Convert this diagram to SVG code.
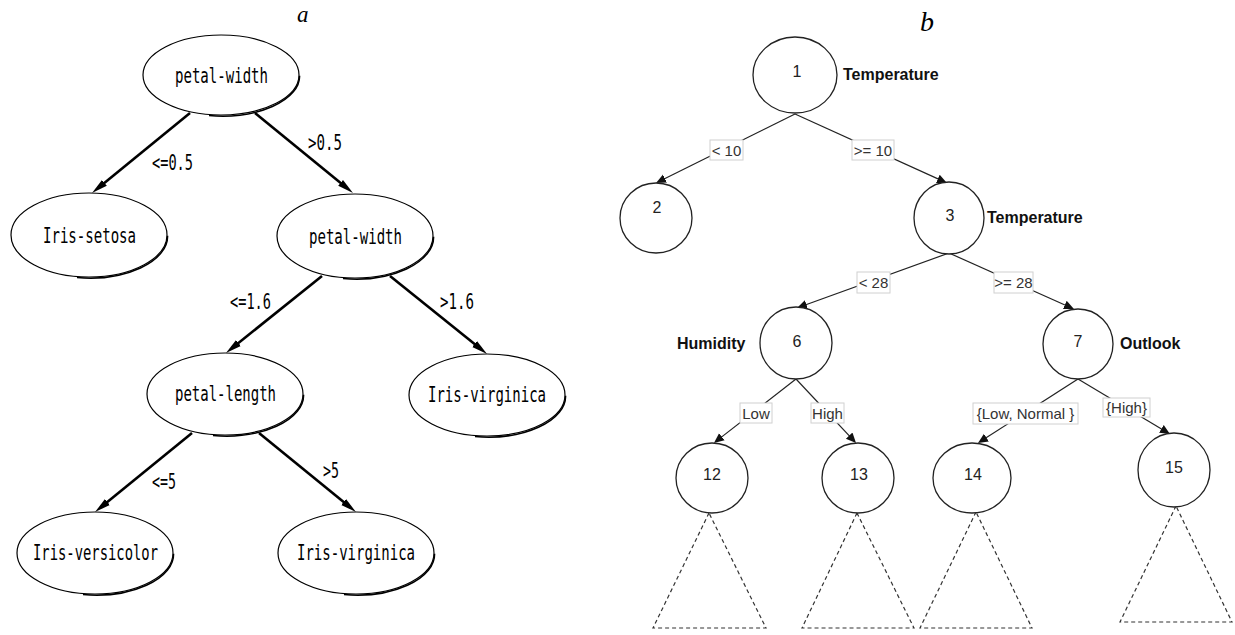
<svg xmlns="http://www.w3.org/2000/svg" width="1235" height="635" viewBox="0 0 1235 635">
  <style>
    .bg { fill: #ffffff; }
    .oval { fill: #ffffff; stroke: #000; stroke-width: 1.2; }
    .shade { fill: none; stroke: #000; stroke-width: 1.5; }
    .mono { font-family: "DejaVu Sans Mono", "Liberation Mono", monospace; font-size: 21px; fill: #000; }
    .thick { stroke: #000; stroke-width: 2.6; fill: none; }
    .circ { fill: #ffffff; stroke: #222; stroke-width: 1.3; }
    .num { font-family: "Liberation Sans", Arial, sans-serif; font-size: 16px; fill: #222; text-anchor: middle; }
    .attr { font-family: "Liberation Sans", Arial, sans-serif; font-size: 16px; font-weight: bold; fill: #111; }
    .thin { stroke: #222; stroke-width: 1.2; fill: none; }
    .lbox { fill: #ffffff; stroke: #d0d0d0; stroke-width: 1; }
    .ltxt { font-family: "Liberation Sans", Arial, sans-serif; font-size: 15px; fill: #333; text-anchor: middle; }
    .tri { fill: none; stroke: #333; stroke-width: 1.2; stroke-dasharray: 4 3; }
    .tag { font-family: "Liberation Serif", "Times New Roman", serif; font-style: italic; fill: #000; }
  </style>
  <defs>
    <marker id="headA" markerUnits="userSpaceOnUse" markerWidth="20" markerHeight="10" viewBox="0 -5 20 10" refX="8" refY="0" orient="auto">
      <path d="M0,-3.8 L16,0 L0,3.8 z" fill="#000"/>
    </marker>
    <marker id="headB" markerUnits="userSpaceOnUse" markerWidth="12" markerHeight="12" viewBox="0 -6 12 12" refX="5" refY="0" orient="auto">
      <path d="M0,-4.5 L10,0 L0,4.5 z" fill="#111"/>
    </marker>
  </defs>
  <rect class="bg" x="0" y="0" width="1235" height="635"/>

  <!-- panel titles -->
  <text class="tag" x="297" y="21.5" font-size="23">a</text>
  <text class="tag" x="920" y="31" font-size="28">b</text>

  <!-- ===== tree a: iris ===== -->
  <g id="edges-a">
    <line class="thick" x1="190" y1="113" x2="98.2" y2="187.9" marker-end="url(#headA)"/>
    <line class="thick" x1="255" y1="113" x2="346.8" y2="187.9" marker-end="url(#headA)"/>
    <line class="thick" x1="322" y1="276" x2="232.2" y2="348.0" marker-end="url(#headA)"/>
    <line class="thick" x1="390" y1="276" x2="480.8" y2="349.0" marker-end="url(#headA)"/>
    <line class="thick" x1="192" y1="433" x2="101.2" y2="507.0" marker-end="url(#headA)"/>
    <line class="thick" x1="259" y1="433" x2="349.8" y2="507.0" marker-end="url(#headA)"/>
    <text class="mono" x="152" y="170" textLength="41" lengthAdjust="spacingAndGlyphs">&lt;=0.5</text>
    <text class="mono" x="308" y="150" textLength="34" lengthAdjust="spacingAndGlyphs">&gt;0.5</text>
    <text class="mono" x="230" y="309" textLength="41" lengthAdjust="spacingAndGlyphs">&lt;=1.6</text>
    <text class="mono" x="440" y="309" textLength="34" lengthAdjust="spacingAndGlyphs">&gt;1.6</text>
    <text class="mono" x="152" y="489" textLength="24" lengthAdjust="spacingAndGlyphs">&lt;=5</text>
    <text class="mono" x="323" y="478" textLength="16" lengthAdjust="spacingAndGlyphs">&gt;5</text>
  </g>

  <g id="a-root">
    <ellipse class="oval" cx="221" cy="75" rx="78" ry="40"/>
    <path class="shade" d="M299.6,75.7 A78 40 0 0 1 209,115.6"/>
    <text class="mono" x="175" y="83" textLength="93" lengthAdjust="spacingAndGlyphs">petal-width</text>
  </g>
  <g id="a-setosa">
    <ellipse class="oval" cx="89" cy="235" rx="78" ry="42"/>
    <path class="shade" d="M167.6,235.7 A78 42 0 0 1 77,277.6"/>
    <text class="mono" x="43" y="243" textLength="93" lengthAdjust="spacingAndGlyphs">Iris-setosa</text>
  </g>
  <g id="a-width2">
    <ellipse class="oval" cx="355" cy="236" rx="78" ry="42"/>
    <path class="shade" d="M433.6,236.7 A78 42 0 0 1 343,278.6"/>
    <text class="mono" x="309" y="244" textLength="93" lengthAdjust="spacingAndGlyphs">petal-width</text>
  </g>
  <g id="a-length">
    <ellipse class="oval" cx="225" cy="394" rx="78" ry="41"/>
    <path class="shade" d="M303.6,394.7 A78 41 0 0 1 213,435.6"/>
    <text class="mono" x="175" y="401" textLength="101" lengthAdjust="spacingAndGlyphs">petal-length</text>
  </g>
  <g id="a-virginica1">
    <ellipse class="oval" cx="487" cy="395" rx="78" ry="41"/>
    <path class="shade" d="M565.6,395.7 A78 41 0 0 1 475,436.6"/>
    <text class="mono" x="428" y="402" textLength="118" lengthAdjust="spacingAndGlyphs">Iris-virginica</text>
  </g>
  <g id="a-versicolor">
    <ellipse class="oval" cx="95" cy="553" rx="78" ry="41"/>
    <path class="shade" d="M173.6,553.7 A78 41 0 0 1 83,594.6"/>
    <text class="mono" x="33" y="560" textLength="125" lengthAdjust="spacingAndGlyphs">Iris-versicolor</text>
  </g>
  <g id="a-virginica2">
    <ellipse class="oval" cx="356" cy="553" rx="78" ry="41"/>
    <path class="shade" d="M434.6,553.7 A78 41 0 0 1 344,594.6"/>
    <text class="mono" x="297" y="560" textLength="118" lengthAdjust="spacingAndGlyphs">Iris-virginica</text>
  </g>

  <!-- ===== tree b: weather ===== -->
  <g id="edges-b">
    <line class="thin" x1="795" y1="114" x2="660.5" y2="180.8" marker-end="url(#headB)"/>
    <line class="thin" x1="795" y1="114" x2="942.4" y2="180.9" marker-end="url(#headB)"/>
    <line class="thin" x1="949" y1="253" x2="801.7" y2="306.3" marker-end="url(#headB)"/>
    <line class="thin" x1="949" y1="253" x2="1069.4" y2="307.0" marker-end="url(#headB)"/>
    <line class="thin" x1="796" y1="379" x2="717.9" y2="439.9" marker-end="url(#headB)"/>
    <line class="thin" x1="796" y1="379" x2="852.6" y2="439.3" marker-end="url(#headB)"/>
    <line class="thin" x1="1078" y1="379" x2="982.2" y2="440.3" marker-end="url(#headB)"/>
    <line class="thin" x1="1078" y1="379" x2="1165.7" y2="431.4" marker-end="url(#headB)"/>

    <rect class="lbox" x="710" y="140" width="33" height="20"/>
    <text class="ltxt" x="726.5" y="155.5">&lt; 10</text>
    <rect class="lbox" x="852" y="140" width="42" height="20"/>
    <text class="ltxt" x="873" y="155.5">&gt;= 10</text>
    <rect class="lbox" x="857" y="272" width="33" height="21"/>
    <text class="ltxt" x="873.5" y="288">&lt; 28</text>
    <rect class="lbox" x="994" y="272" width="39" height="21"/>
    <text class="ltxt" x="1013.5" y="288">&gt;= 28</text>
    <rect class="lbox" x="740" y="403" width="32" height="20"/>
    <text class="ltxt" x="756" y="418.5">Low</text>
    <rect class="lbox" x="811" y="403" width="33" height="20"/>
    <text class="ltxt" x="827.5" y="418.5">High</text>
    <rect class="lbox" x="973" y="403" width="105" height="21"/>
    <text class="ltxt" x="1025.5" y="419">{Low, Normal }</text>
    <rect class="lbox" x="1103" y="398" width="47" height="19"/>
    <text class="ltxt" x="1126.5" y="412.5">{High}</text>
  </g>

  <!-- collapsed subtrees -->
  <g id="subtrees">
    <polygon class="tri" points="709,513 653,628 766,628"/>
    <polygon class="tri" points="857,513 802,628 914,628"/>
    <polygon class="tri" points="976,512 920,628 1032,628"/>
    <polygon class="tri" points="1176,506 1120,622 1232,622"/>
  </g>

  <g id="b-n1">
    <ellipse class="circ" cx="795" cy="75" rx="42" ry="38"/>
    <text class="num" x="797" y="77">1</text>
    <text class="attr" x="843" y="80">Temperature</text>
  </g>
  <g id="b-n2">
    <ellipse class="circ" cx="656" cy="218" rx="36" ry="35"/>
    <text class="num" x="657" y="213">2</text>
  </g>
  <g id="b-n3">
    <ellipse class="circ" cx="949" cy="218" rx="35" ry="36"/>
    <text class="num" x="950" y="221">3</text>
    <text class="attr" x="987" y="223">Temperature</text>
  </g>
  <g id="b-n6">
    <ellipse class="circ" cx="796" cy="343" rx="36" ry="36"/>
    <text class="num" x="797" y="347">6</text>
    <text class="attr" x="677" y="349">Humidity</text>
  </g>
  <g id="b-n7">
    <ellipse class="circ" cx="1078" cy="344" rx="35" ry="35"/>
    <text class="num" x="1078" y="347">7</text>
    <text class="attr" x="1120" y="349">Outlook</text>
  </g>
  <g id="b-n12">
    <ellipse class="circ" cx="712" cy="478" rx="36" ry="35"/>
    <text class="num" x="712" y="480">12</text>
  </g>
  <g id="b-n13">
    <ellipse class="circ" cx="858" cy="478" rx="36" ry="35"/>
    <text class="num" x="859" y="480">13</text>
  </g>
  <g id="b-n14">
    <ellipse class="circ" cx="972" cy="478" rx="39" ry="35"/>
    <text class="num" x="973" y="480">14</text>
  </g>
  <g id="b-n15">
    <ellipse class="circ" cx="1174" cy="470" rx="36" ry="37"/>
    <text class="num" x="1174" y="473">15</text>
  </g>
</svg>
